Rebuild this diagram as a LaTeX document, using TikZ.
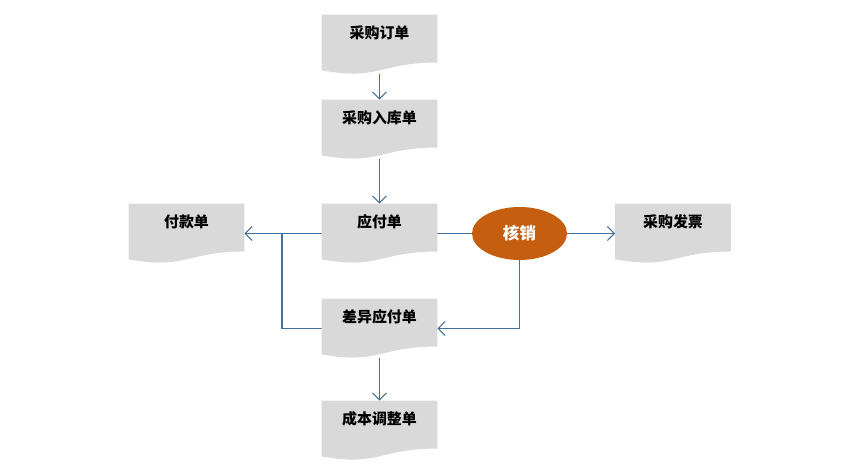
\documentclass[tikz,border=0pt]{standalone}
\usepackage{fontspec}
\newfontfamily\cjk{Noto Sans CJK SC}
\usetikzlibrary{arrows.meta,shapes.geometric,backgrounds,calc}
\definecolor{docgray}{HTML}{D9D9D9}
\definecolor{flowblue}{HTML}{41719C}
\definecolor{hxorange}{HTML}{C55F0F}

\begin{document}
\begin{tikzpicture}[
		doc/.style={minimum width=2.3cm, minimum height=1.18cm, inner sep=0pt,
			text height=2.6mm, text depth=5mm, font=\cjk\bfseries\fontsize{8.5}{10}\selectfont},
		flow/.style={draw=flowblue, line width=0.6pt, -{Straight Barb[length=1.4mm,width=2.8mm]}},
		link/.style={draw=flowblue, line width=0.6pt}
	]
		\useasboundingbox (0,0) rectangle (16.86,9.5);
		
		% documents in the middle column
		\node[doc] (order) at (7.59,8.61) {采购订单};
		\node[doc] (receipt) at (7.59,6.91) {采购入库单};
		\node[doc] (ap) at (7.59,4.83) {应付单};
		\node[doc] (diff) at (7.59,2.93) {差异应付单};
		\node[doc] (cost) at (7.59,0.89) {成本调整单};
		
		% documents left and right
		\node[doc] (pay) at (3.73,4.83) {付款单};
		\node[doc] (invoice) at (13.46,4.83) {采购发票};
		
		% write-off
		\node[ellipse, fill=hxorange, minimum width=1.9cm, minimum height=1.06cm, inner sep=0pt,
			text=white, font=\cjk\bfseries\fontsize{9.4}{11}\selectfont] (hx) at (10.39,4.83) {核销};
		
		\coordinate (split) at (5.64,4.83);
		
		\begin{scope}[on background layer]
			% connectors
			\draw[flow] (order.south) -- (receipt.north);
			\draw[flow] (receipt.south) -- (ap.north);
			\draw[flow] (ap.west) -- (pay.east);
			\draw[link] (diff.west) -| (split);
			\draw[link] (ap.east) -- (hx.west);
			\draw[flow] (hx.east) -- (invoice.west);
			\draw[flow] (hx.south) |- (diff.east);
			\draw[flow] (diff.south) -- (cost.north);
			
			% document shapes with wavy bottom
			\foreach \n in {order,receipt,ap,diff,cost,pay,invoice}
				\fill[docgray] (\n.north west) -- (\n.north east) -- ($(\n.south east)+(0,0.236)$)
					.. controls ($(\n.south)+(0,0.236)$) and ($(\n.south)+(0,-0.126)$) .. ($(\n.south west)+(0,0.078)$) -- cycle;
		\end{scope}
	\end{tikzpicture}
\end{document}
